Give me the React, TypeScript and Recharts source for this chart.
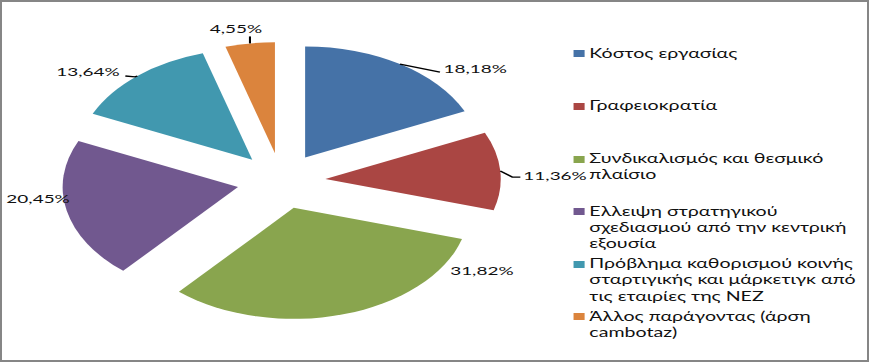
import React from 'react';
import { PieChart, Pie, Cell, Legend, Sector } from 'recharts';

// ---- data ----
const categories = [
  'Κόστος εργασίας',
  'Γραφειοκρατία',
  'Συνδικαλισμός και θεσμικό πλαίσιο',
  'Ελλειψη στρατηγικού σχεδιασμού από την κεντρική εξουσία',
  'Πρόβλημα καθορισμού κοινής σταρτιγικής και μάρκετιγκ από τις εταιρίες της ΝΕΖ',
  'Άλλος παράγοντας (άρση cambotaz)',
];
const shares = [18.18, 11.36, 31.82, 20.45, 13.64, 4.55];

// ---- styles ----
const sliceColors = ['#4572A7', '#AA4643', '#89A54E', '#71588F', '#4198AF', '#DB843D'];
const FONT = 'Lato, Roboto, "Noto Sans", sans-serif';
const SCALE_X = 1.58;
const FULL_W = 869;
const FULL_H = 362;
const CHART_W = FULL_W / SCALE_X;
const EXPLODE = 28;
const RAD = Math.PI / 180;

// label placement relative to the slice's outer-arc midpoint (style only)
const labelPlacement: { tx: number; ty: number; anchor: 'start' | 'end' | 'middle'; line: number[][] | null }[] = [
  { tx: 27.5, ty: 4, anchor: 'start', line: [[0, 0], [25.3, 8]] },
  { tx: 14.6, ty: 4, anchor: 'start', line: [[0, 0], [7.6, 6], [12.7, 6]] },
  { tx: 67.7, ty: -44, anchor: 'start', line: null },
  { tx: 2, ty: -12.6, anchor: 'end', line: null },
  { tx: -11.1, ty: -5, anchor: 'end', line: [[0, 0], [-1.5, 0.8], [-7.6, 0]] },
  { tx: -8.9, ty: -15, anchor: 'middle', line: [[0, 0], [0, -7]] },
];

const data = categories.map((name, i) => ({ name, value: shares[i], fill: sliceColors[i] }));

const fmt = (v: number) => v.toFixed(2).replace('.', ',') + '%';

const ExplodedSector = (props: any) => {
  const { cx, cy, midAngle } = props;
  const dx = EXPLODE * Math.cos(-midAngle * RAD);
  const dy = EXPLODE * Math.sin(-midAngle * RAD);
  return <Sector {...props} cx={cx + dx} cy={cy + dy} stroke="none" />;
};

const renderLabel = (props: any) => {
  const { cx, cy, midAngle, outerRadius, index, value } = props;
  const c = Math.cos(-midAngle * RAD);
  const s = Math.sin(-midAngle * RAD);
  const ax = cx + (EXPLODE + outerRadius) * c;
  const ay = cy + (EXPLODE + outerRadius) * s;
  const p = labelPlacement[index];
  return (
    <g key={`lbl-${index}`}>
      {p.line && (
        <polyline
          points={p.line.map(([x, y]) => `${ax + x},${ay + y}`).join(' ')}
          fill="none"
          stroke="#000"
          strokeWidth={1.3}
        />
      )}
      <text
        x={ax + p.tx}
        y={ay + p.ty}
        textAnchor={p.anchor}
        dominantBaseline="central"
        fontFamily={FONT}
        fontSize={12}
        fill="#111"
      >
        {fmt(value)}
      </text>
    </g>
  );
};

const renderLegend = () => (
  <div style={{ fontFamily: FONT, fontSize: 12.4, color: '#111', margin: 0, padding: 0, width: 185 }}>
    {data.map((entry, i) => (
      <div
        key={i}
        style={{
          position: 'relative',
          height: 52.6,
          paddingLeft: 14,
          width: 185,
          lineHeight: '16.3px',
          boxSizing: 'border-box',
        }}
      >
        <span
          style={{
            position: 'absolute',
            left: 3.7,
            top: 4.6,
            width: 7,
            height: 7,
            background: entry.fill,
          }}
        />
        <div style={{ width: 168.5 }}>{entry.name}</div>
      </div>
    ))}
  </div>
);

export default function App() {
  return (
    <div
      style={{
        position: 'fixed',
        left: 0,
        top: 0,
        width: FULL_W,
        height: FULL_H,
        background: '#fff',
        overflow: 'hidden',
      }}
    >
      <div style={{ position: 'absolute', left: 0, top: 0, transform: `scaleX(${SCALE_X})`, transformOrigin: '0 0' }}>
        <PieChart width={CHART_W} height={FULL_H} margin={{ top: 0, right: 0, bottom: 0, left: 0 }}>
          <Pie
            data={data}
            dataKey="value"
            nameKey="name"
            cx={178}
            cy={181}
            outerRadius={111}
            startAngle={90}
            endAngle={-270}
            stroke="none"
            isAnimationActive={false}
            shape={ExplodedSector}
            label={renderLabel}
            labelLine={false}
          >
            {data.map((d, i) => (
              <Cell key={i} fill={sliceColors[i]} />
            ))}
          </Pie>
          <Legend
            layout="vertical"
            align="right"
            verticalAlign="top"
            content={renderLegend}
            wrapperStyle={{ left: 359, top: 45.8, width: 185 }}
          />
        </PieChart>
      </div>
      <div
        style={{
          position: 'absolute',
          left: 0,
          top: 0,
          width: FULL_W,
          height: FULL_H,
          border: '2px solid #868686',
          boxSizing: 'border-box',
          pointerEvents: 'none',
        }}
      />
    </div>
  );
}
